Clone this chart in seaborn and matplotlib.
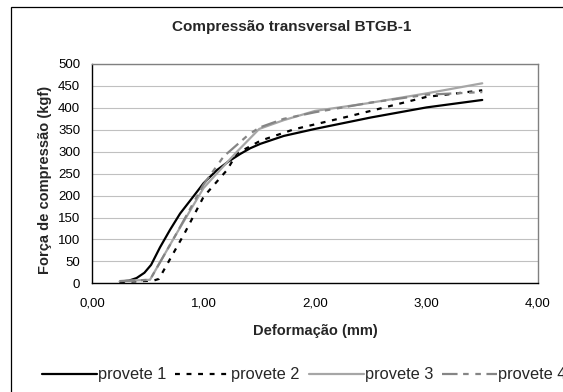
import numpy as np
import pandas as pd
import matplotlib
matplotlib.use("Agg")
import matplotlib.pyplot as plt
from matplotlib.patches import Rectangle
import seaborn as sns

# ---- data ----
p1_x = [0.25, 0.33, 0.40, 0.47, 0.53, 0.61, 0.70, 0.79, 0.90, 1.00, 1.12, 1.22, 1.33, 1.42, 1.51, 1.72, 2.00, 2.50, 3.00, 3.50]
p1_y = [4, 6, 12, 24, 42, 82, 122, 159, 195, 228, 258, 277, 295, 308, 318, 336, 352, 378, 401, 418]

p2_x = [0.25, 0.55, 0.60, 0.83, 1.00, 1.21, 1.30, 1.51, 1.81, 2.31, 3.00, 3.50]
p2_y = [3, 6, 10, 114, 197, 258, 296, 325, 351, 381, 425, 440]

p3_x = [0.25, 0.52, 0.75, 1.00, 1.10, 1.30, 1.50, 1.72, 2.00, 2.46, 3.00, 3.50]
p3_y = [5, 8, 110, 217, 245, 300, 352, 372, 393, 410, 433, 456]

p4_x = [0.25, 0.52, 0.75, 1.00, 1.18, 1.40, 1.50, 1.72, 2.00, 2.50, 3.00, 3.50]
p4_y = [5, 8, 110, 225, 289, 338, 355, 375, 390, 412, 430, 436]

series_names = ["provete 1", "provete 2", "provete 3", "provete 4"]
x_ticks = [0, 1, 2, 3, 4]
x_tick_labels = ["0,00", "1,00", "2,00", "3,00", "4,00"]
y_ticks = list(range(0, 501, 50))

title = "Compressão transversal BTGB-1"
x_label = "Deformação (mm)"
y_label = "Força de compressão (kgf)"

df = pd.concat([
    pd.DataFrame({"x": xs, "y": ys, "serie": name})
    for name, xs, ys in zip(series_names, [p1_x, p2_x, p3_x, p4_x], [p1_y, p2_y, p3_y, p4_y])
], ignore_index=True)

# ---- style ----
sns.set_theme(style="white")
plt.rcParams["font.family"] = ["Liberation Sans", "DejaVu Sans"]

W, H = 563, 392
fig = plt.figure(figsize=(W / 100, H / 100), dpi=100)
fig.patch.set_facecolor("white")

# outer chart border (extends beyond right and bottom edges)
fig.patches.append(Rectangle((11 / W, -0.1), 1.2, 1 - 7 / H + 0.1, transform=fig.transFigure,
                             fill=False, edgecolor="black", linewidth=0.9, zorder=0))

ax = fig.add_axes([92 / W, 1 - 283.3 / H, (538 - 92) / W, (283.3 - 64) / H])
ax.set_facecolor("white")

palette = {"provete 1": "#000000", "provete 2": "#000000", "provete 3": "#A6A6A6", "provete 4": "#858585"}
dashes = {"provete 1": "", "provete 2": (2.2, 3.0), "provete 3": "", "provete 4": (7, 2.5, 2.5, 3, 2.5, 2.5)}

sns.lineplot(data=df, x="x", y="y", hue="serie", style="serie", palette=palette, dashes=dashes,
             sort=False, estimator=None, linewidth=1.6, ax=ax, legend=True)

ax.set_xlim(0, 4)
ax.set_ylim(0, 500)
ax.set_xticks(x_ticks)
ax.set_xticklabels(x_tick_labels)
ax.set_yticks(y_ticks)
ax.tick_params(axis="both", labelsize=9.5, direction="out", length=3.5, width=0.9, color="black",
               labelcolor="black")
ax.tick_params(axis="y", pad=5)
ax.tick_params(axis="x", pad=7)
ax.grid(axis="y", color="#C0C0C0", linewidth=0.8)
ax.grid(axis="x", visible=False)
ax.set_axisbelow(True)
for s in ["left", "bottom"]:
    ax.spines[s].set_color("black")
    ax.spines[s].set_linewidth(1.0)
for s in ["top", "right"]:
    ax.spines[s].set_color("#808080")
    ax.spines[s].set_linewidth(1.0)

ax.set_xlabel("")
ax.set_ylabel("")
fig.text(292 / W, 1 - 27 / H, title, ha="center", va="center", fontsize=11, fontweight="bold")
fig.text(315 / W, 1 - 331 / H, x_label, ha="center", va="center", fontsize=10.5, fontweight="bold")
fig.text(45 / W, 1 - 180 / H, y_label, ha="center", va="center", rotation=90, fontsize=10.5, fontweight="bold")

handles, labels = ax.get_legend_handles_labels()
ax.get_legend().remove()
fig.legend(handles, labels, loc="center left", bbox_to_anchor=(42 / W, 1 - 375 / H), ncol=4,
           frameon=False, fontsize=11.75, handlelength=3.37, handletextpad=0.06, columnspacing=0.55,
           borderpad=0, borderaxespad=0)

fig.savefig("out.png", dpi=100, facecolor="white")
